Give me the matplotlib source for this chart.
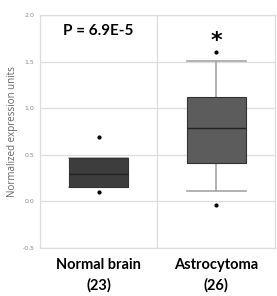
import matplotlib
matplotlib.use("Agg")
import matplotlib.pyplot as plt

categories = ["Normal brain\n(23)", "Astrocytoma\n(26)"]
q1 = [0.15, 0.41]
medians = [0.29, 0.79]
q3 = [0.47, 1.12]
whislo = [0.15, 0.11]
whishi = [0.47, 1.51]
fliers = [[0.10, 0.69], [-0.04, 1.60]]
box_colors = ["#3d3d3d", "#5c5c5c"]
p_text = "P = 6.9E-5"
star_value = 1.72
yticks = [-0.5, 0.0, 0.5, 1.0, 1.5, 2.0]
ytick_labels = ["-0.5", "0.0", "0.5", "1.0", "1.5", "2.0"]

fig = plt.figure(figsize=(2.77, 2.96), dpi=100)
ax = fig.add_axes([0.144, 0.162, 0.849, 0.787])

stats = []
for i in range(len(categories)):
    stats.append(dict(q1=q1[i], med=medians[i], q3=q3[i],
                      whislo=whislo[i], whishi=whishi[i], fliers=fliers[i]))

bp = ax.bxp(stats, positions=range(len(categories)), widths=0.5,
            patch_artist=True, showfliers=True,
            boxprops=dict(edgecolor="#333333", linewidth=0.8),
            medianprops=dict(color="#222222", linewidth=1.0),
            whiskerprops=dict(color="#a6a6a6", linewidth=1.2),
            capprops=dict(color="#a6a6a6", linewidth=1.2),
            capwidths=0.5,
            flierprops=dict(marker="o", markersize=2.0, markerfacecolor="black",
                            markeredgecolor="black"))
for patch, c in zip(bp["boxes"], box_colors):
    patch.set_facecolor(c)
    patch.set_zorder(3)
for m in bp["medians"]:
    m.set_zorder(4)

ax.set_xlim(-0.5, 1.5)
ax.set_ylim(-0.5, 2.0)
ax.set_yticks(yticks)
ax.set_yticklabels(ytick_labels, fontsize=4.5, color="#8a8a8a")
ax.set_xticks(range(len(categories)))
ax.set_xticklabels(categories, fontsize=10.5, fontweight="bold",
                   family=["Lato", "DejaVu Sans"], linespacing=1.55)
ax.tick_params(axis="both", length=0)
ax.tick_params(axis="x", pad=7)
ax.tick_params(axis="y", pad=4)

ax.set_axisbelow(True)
ax.grid(axis="y", color="#dcdcdc", linewidth=0.9)
ax.axvline(0.5, color="#dcdcdc", linewidth=0.9, zorder=0)
for s in ax.spines.values():
    s.set_color("#dcdcdc")
    s.set_linewidth(0.9)

ax.set_ylabel("Normalized expression units", fontsize=7, color="#666666",
              family=["Open Sans", "DejaVu Sans"], labelpad=3)

ax.text(0.0, 1.83, p_text, ha="center", va="center", fontsize=11,
        fontweight="bold", family=["Lato", "DejaVu Sans"])
ax.text(1.0, star_value, "*", ha="center", va="center", fontsize=16,
        fontweight="bold", family=["DejaVu Sans"])

fig.savefig("out.png", dpi=100)
